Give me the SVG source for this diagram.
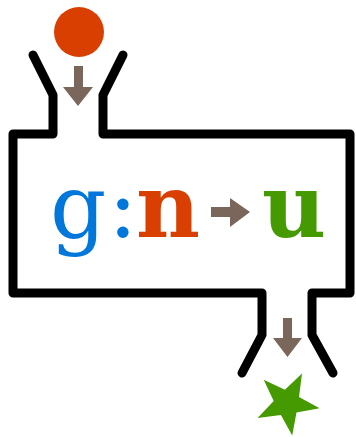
<svg xmlns="http://www.w3.org/2000/svg" width="356" height="437" viewBox="0 0 356 437">
<style>
.outline{fill:none;stroke:#000;stroke-width:9;stroke-linecap:round;stroke-linejoin:round}
.arr{fill:#7a665b}
.t{font-family:"DejaVu Serif",serif;font-size:88px}
</style>
<rect width="356" height="437" fill="#fff"/>
<g id="input">
<circle cx="79" cy="32" r="25" fill="#d93f00"/>
</g>
<g id="machine">
<path class="outline" d="M33,55 L53,95 L53,134 L13,134 L13,293 L262,293 L262,335 L242,373"/>
<path class="outline" d="M123,55 L103,95 L103,134 L350,134 L350,293 L312,293 L312,335 L333,373"/>
<g id="label">
<text class="t" x="50" y="237" fill="#0077db">g</text>
<text class="t" x="108" y="237" fill="#0077db">:</text>
<text class="t" x="136" y="237" fill="#d93f00" font-weight="bold">n</text>
<text class="t" x="262" y="237" fill="#449a00" font-weight="bold">u</text>
</g>
</g>
<g id="output">
<polygon fill="#449a00" points="302,373.6 299,396.9 319.6,408.2 296.5,412.5 292.2,435.6 280.9,415 257.6,418 273.7,400.9 263.7,379.7 284.9,389.7"/>
</g>
<g id="connectors">
<path class="arr" d="M74,66 H83 V87 H93 L78,106 L63,87 H74 Z"/>
<path class="arr" d="M211,207 H230 V198 L250,212 L230,227 V217 H211 Z"/>
<path class="arr" d="M283,318 H292 V338 H302 L287.5,357 L273,338 H283 Z"/>
</g>
</svg>
